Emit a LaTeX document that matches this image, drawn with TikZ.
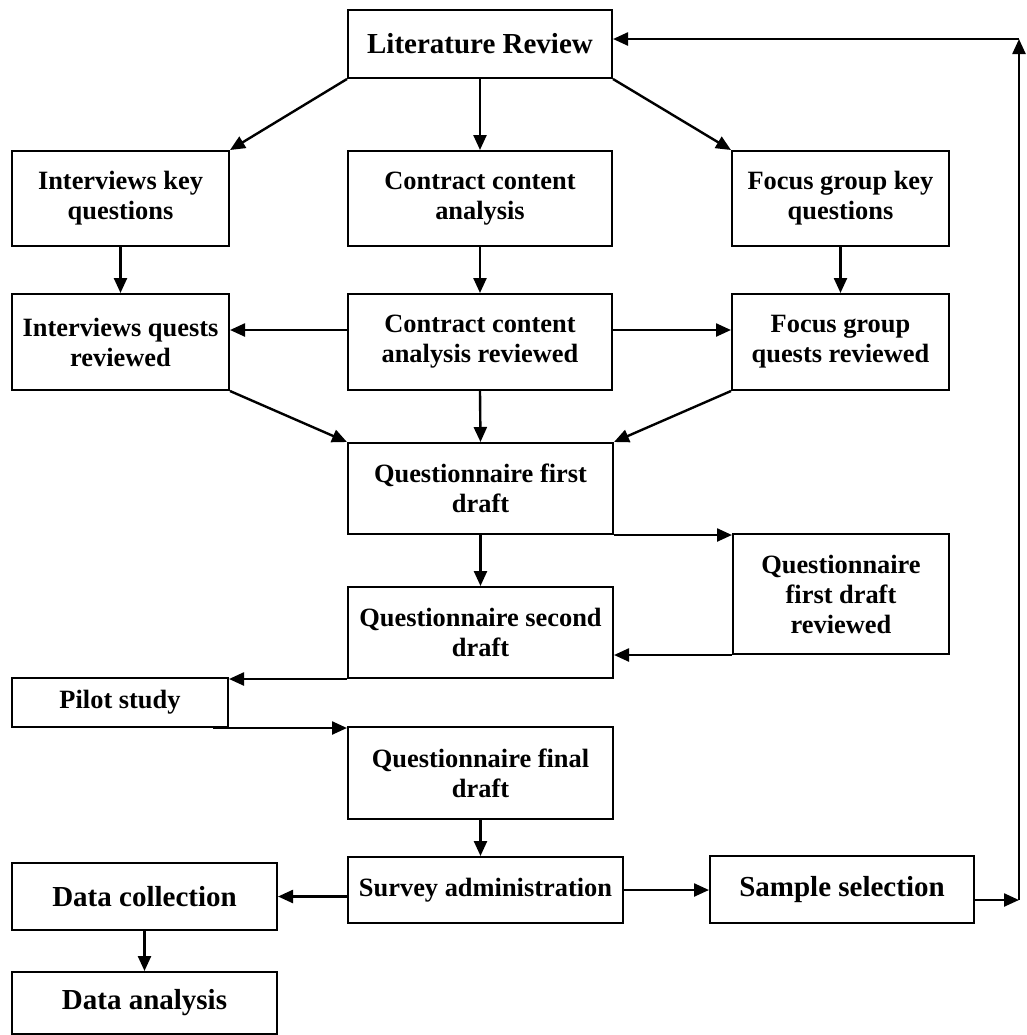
\documentclass[tikz,border=0pt]{standalone}
\usepackage{fontspec}
\setmainfont{Liberation Serif}
\usetikzlibrary{arrows.meta}

\tikzstyle{box}=[draw, line width=1pt, align=center, inner sep=2pt, font=\bfseries\fontsize{13.2}{15}\selectfont]
\tikzstyle{bigbox}=[box, font=\bfseries\fontsize{14.5}{17}\selectfont]
\tikzstyle{flow}=[line width=1.2pt, -{Triangle[length=7.5pt,width=6.5pt]}]

\begin{document}
\begin{tikzpicture}[x=0.5pt, y=-0.5pt]
      \useasboundingbox (0,0) rectangle (1027,1035);

      \node[bigbox, minimum width=132pt, minimum height=34pt] (lr) at (480, 44) {Literature Review};

      \node[box, minimum width=108.5pt, minimum height=47.5pt] (ikq) at (120.5, 198.5) {Interviews key\\questions};
      \node[box, minimum width=132pt, minimum height=47.5pt] (cca) at (480, 198.5) {Contract content\\analysis};
      \node[box, minimum width=108.5pt, minimum height=47.5pt] (fgk) at (840.5, 198.5) {Focus group key\\questions};

      \node[box, minimum width=108.5pt, minimum height=48pt] (iqr) at (120.5, 342) {Interviews quests\\reviewed};
      \node[box, minimum width=132pt, minimum height=48pt] (ccar) at (480, 342) {Contract content\\analysis reviewed};
      \node[box, minimum width=108.5pt, minimum height=48pt] (fgr) at (840.5, 342) {Focus group\\quests reviewed};

      \node[box, minimum width=132.5pt, minimum height=45.5pt] (qfd) at (480.5, 488.5) {Questionnaire first\\draft};
      \node[box, minimum width=108pt, minimum height=60pt] (qfdr) at (841, 594) {Questionnaire\\first draft\\reviewed};
      \node[box, minimum width=132.5pt, minimum height=45.5pt] (qsd) at (480.5, 632.5) {Questionnaire second\\draft};
      \node[box, minimum width=108pt, minimum height=24.5pt] (pilot) at (120, 702.5) {Pilot study};
      \node[box, minimum width=132.5pt, minimum height=46pt] (qfin) at (480.5, 773) {Questionnaire final\\draft};

      \node[bigbox, minimum width=132.5pt, minimum height=33.5pt] (dc) at (144.5, 896.5) {Data collection};
      \node[box, minimum width=137.5pt, minimum height=33pt] (sa) at (485.5, 890) {Survey administration};
      \node[bigbox, minimum width=132pt, minimum height=33.5pt] (ss) at (842, 889.5) {Sample selection};
      \node[bigbox, minimum width=132.5pt, minimum height=31pt] (da) at (144.5, 1003) {Data analysis};

      \coordinate (fbb) at (1019, 900);
      \coordinate (fbt) at (1019, 39);

      % literature review fans out
      \draw[flow] (lr.south west) -- (ikq.north east);
      \draw[flow] (lr.south) -- (cca.north);
      \draw[flow] (lr.south east) -- (fgk.north west);

      \draw[flow] (ikq.south) -- (iqr.north);
      \draw[flow] (cca.south) -- (ccar.north);
      \draw[flow] (fgk.south) -- (fgr.north);
      \draw[flow] ([yshift=6pt]ccar.west) -- ([yshift=6pt]iqr.east);
      \draw[flow] ([yshift=6pt]ccar.east) -- ([yshift=6pt]fgr.west);

      \draw[flow] (iqr.south east) -- (qfd.north west);
      \draw[flow] (ccar.south) -- (qfd.north);
      \draw[flow] (fgr.south west) -- (qfd.north east);

      % drafts
      \draw[flow] (qfd.south) -- (qsd.north);
      \draw[flow] (qfd.south east) -- (qfd.south east -| qfdr.west);
      \draw[flow] (qfdr.south west) -- (qfdr.south west -| qsd.east);
      \draw[flow] (qsd.south west) -- (qsd.south west -| pilot.east);
      \draw[flow] ([xshift=-8pt]pilot.south east) -- (pilot.south east -| qfin.west);
      \draw[flow] (qfin.south) -- (qfin.south |- sa.north);

      \draw[flow] (dc.east -| sa.west) -- (dc.east);
      \draw[flow] (sa.east) -- (sa.east -| ss.west);
      \draw[flow] (dc.south) -- (da.north);

      % feedback to literature review
      \draw[flow] (ss.east |- fbb) -- (fbb);
      \draw[flow] (fbb) -- (fbt);
      \draw[flow] (fbt) -- (lr.east |- fbt);
    \end{tikzpicture}
\end{document}
